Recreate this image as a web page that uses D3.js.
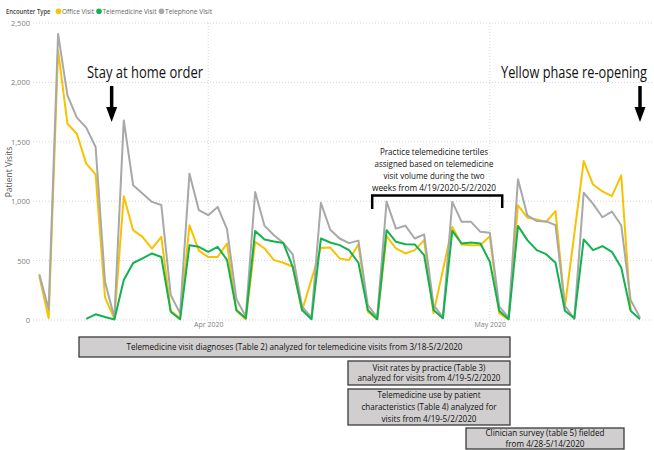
<!DOCTYPE html>
<html lang="en">
<head>
<meta charset="utf-8">
<title>Visits by encounter type</title>
<style>
  body { margin: 0; background: #fff; }
  svg { display: block; }
  text { font-family: "Open Sans", "Noto Sans", sans-serif; }
</style>
</head>
<body>
<div id="chart"></div>
<script src="https://cdn.jsdelivr.net/npm/d3@7"></script>
<script>
// daily values, Mar 14 2020 .. May 17 2020 (null = no point that day)
var startDay = new Date(2020, 2, 14),
    endDay = new Date(2020, 4, 17);

var officeVisits = [
  370, 14, 2268, 1652, 1568, 1316, 1226, 190, 10,
  1042, 756, 700, 600, 700, 78, 14,
  798, 584, 530, 530, 644, 76, 6,
  658, 602, 504, 482, 448, 78, null,
  607, 610, 518, 504, 638, 70, 6,
  706, 602, 560, 588, 672, 56, null,
  784, 636, 630, 630, 706, 56, 6,
  966, 862, 846, 826, 916, 110, null,
  1338, 1140, 1082, 1043, 1218, 84, null
];

var telemedicineVisits = [
  null, null, null, null, null, 10, 48, 25, 5,
  336, 480, 518, 560, 530, 70, 6,
  630, 616, 574, 616, 506, 84, 14,
  750, 678, 660, 648, 448, 84, 6,
  686, 652, 630, 588, 482, 84, 6,
  756, 658, 638, 636, 546, 84, 14,
  750, 644, 652, 644, 490, 78, 6,
  792, 672, 588, 554, 482, 78, 14,
  678, 588, 622, 574, 442, 78, 6
];

var telephoneVisits = [
  385, 90, 2408, 1890, 1703, 1619, 1456, 322, 20,
  1680, 1134, 1064, 994, 968, 210, 56,
  1232, 924, 882, 952, 765, 175, 30,
  1078, 792, 714, 650, 552, 112, 22,
  986, 760, 686, 647, 668, 126, 22,
  997, 769, 794, 686, 721, 128, 22,
  994, 826, 826, 742, 734, 112, 22,
  1184, 880, 833, 830, 798, 120, 10,
  1071, 977, 865, 913, 798, 168, 20
];

var seriesNames = ["Office Visit", "Telemedicine Visit", "Telephone Visit"];
var seriesColors = ["#F7C300", "#13B14F", "#A8A8A8"];
var yTicks = [0, 500, 1000, 1500, 2000, 2500];
var xTicks = [new Date(2020, 3, 1), new Date(2020, 4, 1)];

var days = d3.timeDay.range(startDay, d3.timeDay.offset(endDay, 1));

var width = 654, height = 450;

var svg = d3.select("#chart").append("svg")
    .attr("width", width)
    .attr("height", height);

var x = d3.scaleTime()
    .domain([startDay, endDay])
    .range([39.3, 640]);

var y = d3.scaleLinear()
    .domain([0, 2500])
    .range([320, 23]);

// gridlines
svg.append("g").selectAll("line")
  .data(yTicks)
  .enter().append("line")
    .attr("x1", 33).attr("x2", 652)
    .attr("y1", function(d) { return y(d); })
    .attr("y2", function(d) { return y(d); })
    .attr("stroke", "#d6d6d6")
    .attr("stroke-dasharray", "1,2");

svg.append("g").selectAll("line")
  .data(xTicks)
  .enter().append("line")
    .attr("x1", function(d) { return x(d); })
    .attr("x2", function(d) { return x(d); })
    .attr("y1", y(2500)).attr("y2", y(0))
    .attr("stroke", "#d6d6d6")
    .attr("stroke-dasharray", "1,2");

// axes (labels only, no domain line)
var yAxis = svg.append("g")
    .attr("transform", "translate(30,0)")
    .call(d3.axisLeft(y).tickValues(yTicks).tickSize(0).tickPadding(0).tickFormat(d3.format(",")));
yAxis.select(".domain").remove();
yAxis.selectAll("text")
    .attr("fill", "#808080")
    .style("font-size", "7.5px")
    .style("font-family", "'Open Sans', sans-serif");

var xAxis = svg.append("g")
    .attr("transform", "translate(0,322)")
    .call(d3.axisBottom(x).tickValues(xTicks).tickSize(0).tickPadding(0).tickFormat(d3.timeFormat("%b %Y")));
xAxis.select(".domain").remove();
xAxis.selectAll("text")
    .attr("fill", "#808080")
    .style("font-size", "7px")
    .style("font-family", "'Open Sans', sans-serif");

svg.append("text")
    .attr("transform", "translate(12,172) rotate(-90)")
    .attr("text-anchor", "middle")
    .attr("fill", "#555")
    .style("font-size", "8.5px")
    .text("Patient Visits");

// lines
var line = d3.line()
    .x(function(d) { return x(d.date); })
    .y(function(d) { return y(d.value); });

var allSeries = [officeVisits, telemedicineVisits, telephoneVisits];
var drawOrder = [0, 2, 1];

drawOrder.forEach(function(i) {
  var pts = days.map(function(d, j) { return {date: d, value: allSeries[i][j]}; })
    .filter(function(d) { return d.value != null; });
  svg.append("path")
    .datum(pts)
    .attr("fill", "none")
    .attr("stroke", seriesColors[i])
    .attr("stroke-width", 2)
    .attr("stroke-linejoin", "round")
    .attr("d", line);
});

// legend
var legend = svg.append("g").attr("transform", "translate(0,11)");
legend.append("text")
    .attr("x", 50.5).attr("y", 3)
    .attr("text-anchor", "end")
    .attr("fill", "#444")
    .attr("textLength", 44.5).attr("lengthAdjust", "spacingAndGlyphs")
    .style("font-size", "7.5px").style("font-weight", 600)
    .text("Encounter Type");

var legendX = [58.5, 99, 161.5];
var legendW = [32, 54, 47];
seriesNames.forEach(function(name, i) {
  legend.append("circle")
    .attr("cx", legendX[i]).attr("cy", 0.2).attr("r", 2.8)
    .attr("fill", seriesColors[i]);
  legend.append("text")
    .attr("x", legendX[i] + 3.5).attr("y", 3)
    .attr("fill", "#666")
    .attr("textLength", legendW[i]).attr("lengthAdjust", "spacingAndGlyphs")
    .style("font-size", "8px")
    .text(name);
});

// annotation helpers
function label(txt, cx, cy, w, size, anchor) {
  svg.append("text")
    .attr("x", cx).attr("y", cy)
    .attr("text-anchor", anchor || "middle")
    .attr("fill", "#111")
    .attr("textLength", w).attr("lengthAdjust", "spacingAndGlyphs")
    .style("font-size", size + "px")
    .text(txt);
}

// big callouts: smaller font stretched tall, so the natural width stays close
function callout(txt, cx, cy, w) {
  svg.append("text")
    .attr("transform", "translate(" + cx + "," + cy + ") scale(1,1.3)")
    .attr("text-anchor", "middle")
    .attr("fill", "#111")
    .attr("textLength", w).attr("lengthAdjust", "spacingAndGlyphs")
    .style("font-size", "13px")
    .text(txt);
}

function downArrow(ax) {
  svg.append("line")
    .attr("x1", ax).attr("x2", ax)
    .attr("y1", 86).attr("y2", 109)
    .attr("stroke", "#000").attr("stroke-width", 3.5);
  svg.append("path")
    .attr("d", "M" + (ax - 5.5) + ",107L" + (ax + 5.5) + ",107L" + ax + ",122Z")
    .attr("fill", "#000");
}

callout("Stay at home order", 145, 78, 116);
downArrow(x(new Date(2020, 2, 21, 17)));

callout("Yellow phase re-opening", 574, 78, 146);
downArrow(x(endDay));

// bracket for tertile window
var bL = x(new Date(2020, 3, 19)) - 5,
    bR = x(new Date(2020, 4, 2)) + 3;
svg.append("path")
    .attr("d", "M" + bL + ",209V195.5H" + bR + "V208")
    .attr("fill", "none")
    .attr("stroke", "#000")
    .attr("stroke-width", 2.5);

var bracketLines = [
  ["Practice telemedicine tertiles", 108],
  ["assigned based on telemedicine", 119],
  ["visit volume during the two", 101],
  ["weeks from 4/19/2020-5/2/2020", 124]
];
bracketLines.forEach(function(d, i) {
  label(d[0], 434, 154.5 + i * 12, d[1], 9);
});

// study-period boxes
var boxes = [
  {x0: 79, x1: 510, y0: 337, y1: 357,
   lines: [["Telemedicine visit diagnoses (Table 2) analyzed for telemedicine visits from 3/18-5/2/2020", 336]]},
  {x0: 348, x1: 510, y0: 361, y1: 385,
   lines: [["Visit rates by practice (Table 3)", 113], ["analyzed for visits from 4/19-5/2/2020", 143]]},
  {x0: 348, x1: 510, y0: 389, y1: 425,
   lines: [["Telemedicine use by patient", 103], ["characteristics (Table 4) analyzed for", 135], ["visits from 4/19-5/2/2020", 95]]},
  {x0: 466, x1: 624, y0: 428, y1: 449,
   lines: [["Clinician survey (table 5) fielded", 119], ["from 4/28-5/14/2020", 79]]}
];

boxes.forEach(function(b) {
  svg.append("rect")
    .attr("x", b.x0).attr("y", b.y0)
    .attr("width", b.x1 - b.x0).attr("height", b.y1 - b.y0)
    .attr("fill", "#D0CECE")
    .attr("stroke", "#3b3b3b")
    .attr("stroke-width", 1.3);
  var n = b.lines.length;
  var mid = (b.y0 + b.y1) / 2;
  var step = n > 2 ? 11.6 : 10.4;
  b.lines.forEach(function(l, i) {
    label(l[0], (b.x0 + b.x1) / 2, mid + (i - (n - 1) / 2) * step + 3, l[1], 8.5);
  });
});
</script>
</body>
</html>
